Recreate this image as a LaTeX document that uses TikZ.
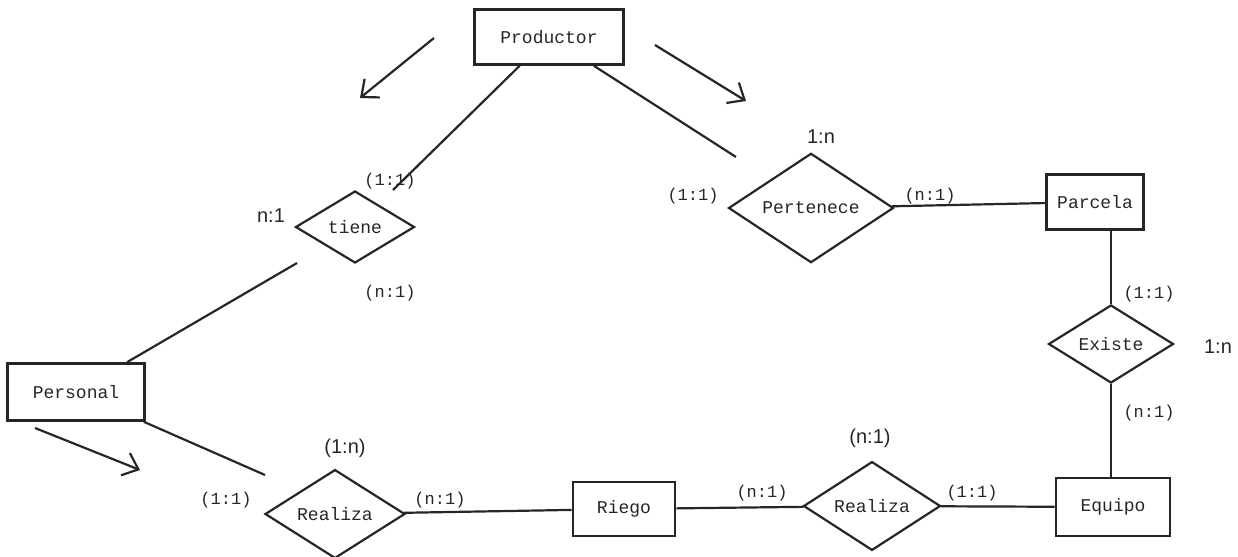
\documentclass[tikz,border=0pt]{standalone}
\usepackage{fontspec}
\usetikzlibrary{shapes.geometric,arrows.meta}
\newfontfamily\ermono{Liberation Mono}
\newfontfamily\ersans{Liberation Sans}
\tikzset{
  entity/.style={draw, rectangle, line width=1.3pt, inner sep=0pt, font=\ermono\fontsize{9}{10}\selectfont},
  relation/.style={draw, diamond, line width=1.1pt, inner sep=0pt, font=\ermono\fontsize{9}{10}\selectfont},
  card/.style={inner sep=0pt, font=\ermono\fontsize{8.5}{10}\selectfont},
  cardsans/.style={inner sep=0pt, font=\ersans\fontsize{10}{12}\selectfont},
  flecha/.style={line width=1.1pt, -{Straight Barb[length=7pt,width=12pt]}}
}
\begin{document}
\begin{tikzpicture}[x=0.5pt,y=-0.5pt,line width=1.1pt,color=black!85]
      \useasboundingbox (0,0) rectangle (1238,557);
      % entidades y relaciones
      \draw
        (549,37) node[entity, minimum width=74.5pt, minimum height=27.5pt] (productor){Productor}
        (76,392) node[entity, minimum width=68.5pt, minimum height=28.5pt] (personal){Personal}
        (624,509) node[entity, minimum width=51pt, minimum height=27pt] (riego){Riego}
        (1095,202) node[entity, minimum width=48.5pt, minimum height=27.5pt] (parcela){Parcela}
        (1113,507) node[entity, minimum width=57pt, minimum height=29pt] (equipo){Equipo}
        (355,227) node[relation, minimum width=59.5pt, minimum height=36pt] (tiene){tiene}
        (811,208) node[relation, minimum width=82.5pt, minimum height=48pt] (pertenece){Pertenece}
        (1111,344) node[relation, minimum width=62.5pt, minimum height=39pt] (existe){Existe}
        (335,514) node[relation, minimum width=70pt, minimum height=42.5pt] (realizaA){Realiza}
        (872,506) node[relation, minimum width=68.5pt, minimum height=44pt] (realizaB){Realiza};
      % extremos sueltos
      \coordinate (pt) at (393,190);
      \coordinate (tp) at (297,263);
      \coordinate (pp) at (736,157);
      \coordinate (pr) at (265,475);
      \begin{scope}[-]
        \draw (productor) to (pt);
        \draw (productor) to (pp);
        \draw (tp) to (personal);
        \draw (personal) to (pr);
        \draw (realizaA) to (riego);
        \draw (riego) to (realizaB);
        \draw (realizaB) to (equipo);
        \draw (pertenece) to (parcela);
        \draw (existe.north) to (existe.north |- parcela.south);
        \draw (existe.south) to (existe.south |- equipo.north);
      \end{scope}
      % cardinalidades
      \node[cardsans] (c1) at (271,216) {n:1};
      \node[card] (c2) at (390,181) {(1:1)};
      \node[card] (c3) at (390,293) {(n:1)};
      \node[cardsans] (c4) at (821,137) {1:n};
      \node[card] (c5) at (693,196) {(1:1)};
      \node[card] (c6) at (930,196) {(n:1)};
      \node[card] (c7) at (1149,294) {(1:1)};
      \node[card] (c8) at (1149,413) {(n:1)};
      \node[cardsans] (c9) at (1218,347) {1:n};
      \node[cardsans] (c10) at (870,438) {(n:1)};
      \node[card] (c11) at (762,493) {(n:1)};
      \node[card] (c12) at (972,493) {(1:1)};
      \node[cardsans] (c13) at (345,448) {(1:n)};
      \node[card] (c14) at (226,500) {(1:1)};
      \node[card] (c15) at (440,500) {(n:1)};
      % flechas
      \coordinate (f1a) at (434,38);  \coordinate (f1b) at (360,98);
      \coordinate (f2a) at (655,45);  \coordinate (f2b) at (746,101);
      \coordinate (f3a) at (35,428);  \coordinate (f3b) at (140,470);
      \draw[flecha] (f1a) to (f1b);
      \draw[flecha] (f2a) to (f2b);
      \draw[flecha] (f3a) to (f3b);
    \end{tikzpicture}
\end{document}
